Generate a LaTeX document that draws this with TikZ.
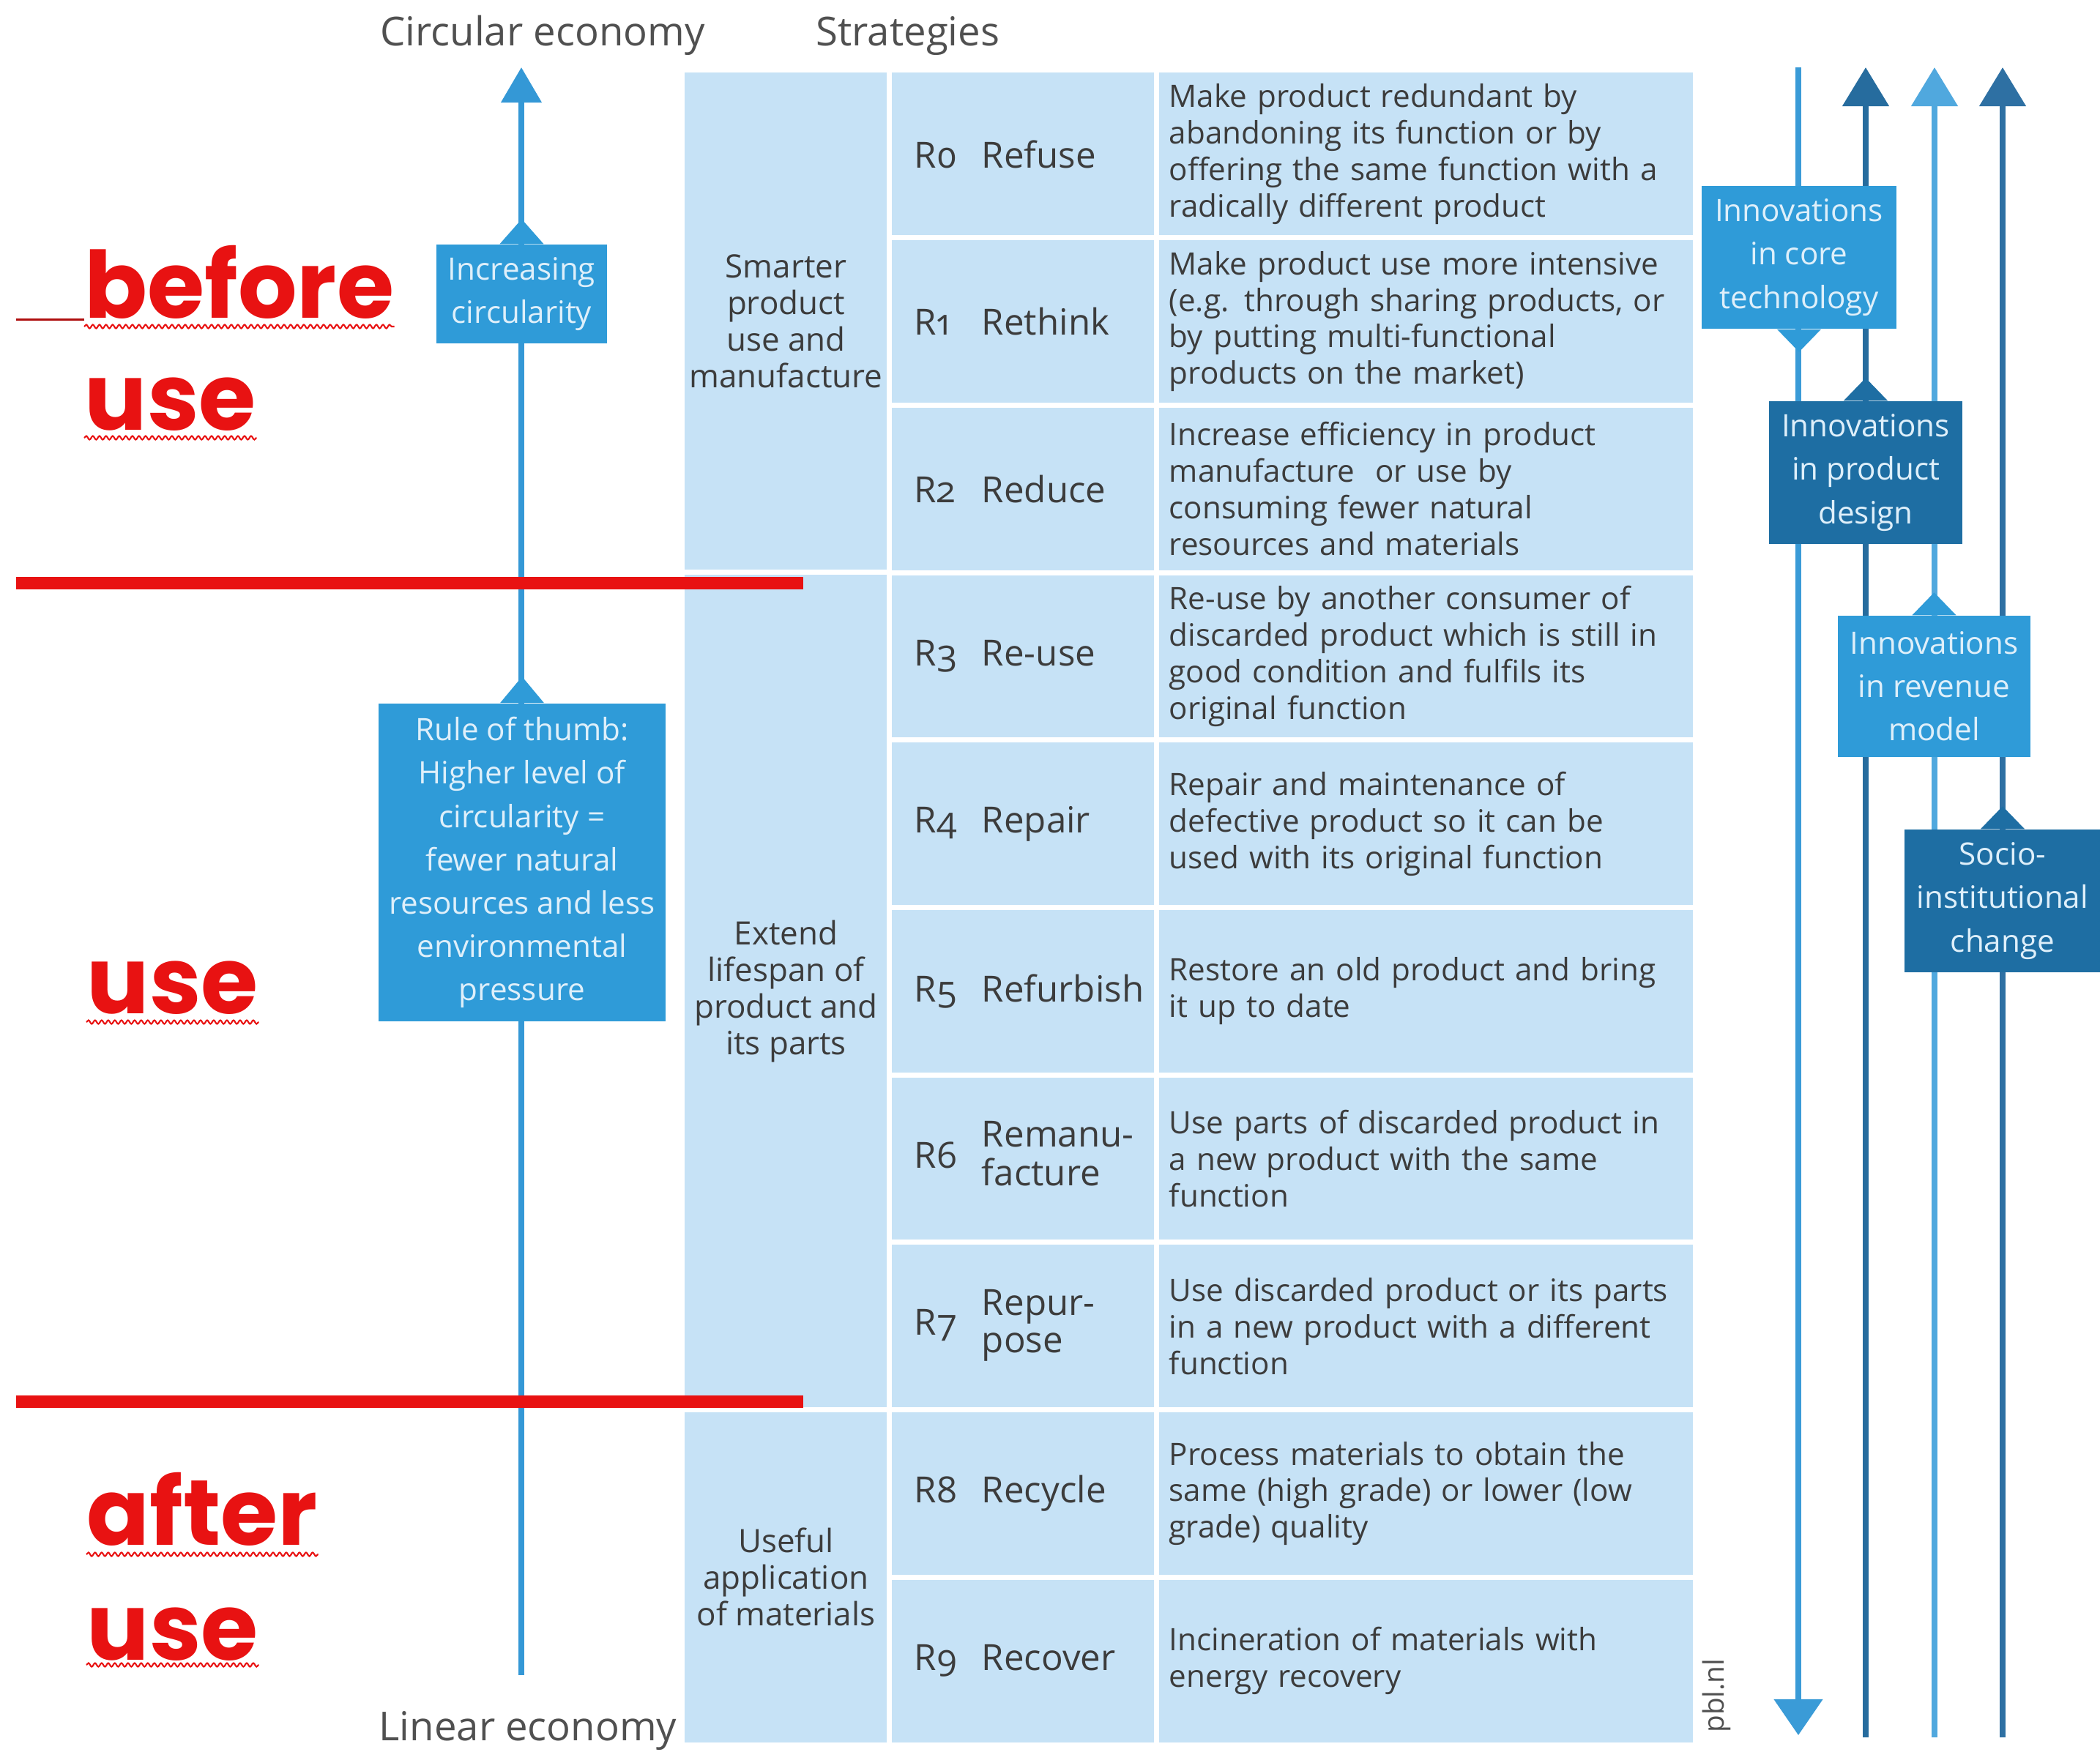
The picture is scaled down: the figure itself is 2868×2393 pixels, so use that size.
\documentclass[tikz,border=0pt]{standalone}
\usepackage{fontspec}
\setmainfont{Open Sans}
\newfontfamily\redfont{Poppins}
\newfontfamily\rfont{Open Sans}[Numbers=OldStyle]
\usetikzlibrary{arrows.meta,decorations.pathmorphing}

\definecolor{cellblue}{RGB}{198,226,246}
\definecolor{textgray}{RGB}{60,60,60}
\definecolor{labelgray}{RGB}{80,80,80}
\definecolor{axisblue}{RGB}{52,152,214}
\definecolor{midblue}{RGB}{47,155,216}
\definecolor{darkblue}{RGB}{30,110,163}
\definecolor{paletext}{RGB}{222,239,250}
\definecolor{lineone}{RGB}{58,155,215}
\definecolor{linetwo}{RGB}{38,108,158}
\definecolor{linethree}{RGB}{80,168,222}
\definecolor{linefour}{RGB}{46,112,163}
\definecolor{sepred}{RGB}{232,18,18}

\newcommand{\rnum}[1]{\makebox[0.92cm][l]{\rfont #1}}

\begin{document}
\begin{tikzpicture}[x=0.01cm, y=-0.01cm,
  cell/.style={fill=cellblue, draw=white, line width=0.07cm, inner sep=0pt, text=textgray},
  grp/.style={cell, minimum width=2.83cm, align=center, font=\fontsize{12.5}{14.2}\selectfont},
  rcell/.style={cell, minimum width=3.65cm, minimum height=2.287cm, text width=2.97cm, inner xsep=0.34cm, align=left, font=\fontsize{14}{14.5}\selectfont},
  dcell/.style={cell, minimum height=2.287cm, text width=7.01cm, inner xsep=0.17cm, align=left, font=\fontsize{12}{14.2}\selectfont},
  toplabel/.style={text=labelgray, inner sep=0pt, font=\fontsize{15.5}{18}\selectfont},
  bluebox/.style={fill=midblue, text=paletext, inner sep=0pt, align=center, font=\fontsize{12}{16.8}\selectfont},
  darkbox/.style={bluebox, fill=darkblue},
  axis/.style={draw=axisblue, line width=0.075cm, -{Triangle[width=0.54cm, length=0.48cm]}},
  downarr/.style={draw=#1, line width=0.08cm, -{Triangle[width=0.65cm, length=0.49cm]}},
  uparr/.style={draw=#1, line width=0.08cm, -{Triangle[width=0.62cm, length=0.53cm]}},
  sepline/.style={draw=sepred, line width=0.17cm},
  redword/.style={text=sepred, inner sep=0pt, anchor=base west, font=\redfont\bfseries\fontsize{36}{36}\selectfont},
  wavy/.style={draw=sepred, line width=0.6pt, decorate, decoration={snake, amplitude=0.025cm, segment length=0.09cm}}]

\useasboundingbox (0,0) rectangle (2868,2393);

% headings
\node[toplabel, anchor=base] (circular) at (741,62) {Circular economy};
\node[toplabel, anchor=base] (strategies) at (1240,62) {Strategies};
\node[toplabel, anchor=base] (linear) at (721,2377) {Linear economy};

% strategy groups
\node[grp, minimum height=6.861cm] (smarter) at (1073.5,439) {Smarter\\product\\use and\\manufacture};
\node[grp, minimum height=11.435cm] (extend) at (1073.5,1353.9) {Extend\\lifespan of\\product and\\its parts};
\node[grp, minimum height=4.574cm] (useful) at (1073.5,2154.3) {Useful\\application\\of materials};

% R strategies
\node[rcell] (r0) at (1397.5,210.4) {\rnum{R0}Refuse};
\node[rcell] (r1) at (1397.5,439.0) {\rnum{R1}Rethink};
\node[rcell] (r2) at (1397.5,667.8) {\rnum{R2}Reduce};
\node[rcell] (r3) at (1397.5,896.5) {\rnum{R3}Re-use};
\node[rcell] (r4) at (1397.5,1125.2) {\rnum{R4}Repair};
\node[rcell] (r5) at (1397.5,1353.9) {\rnum{R5}Refurbish};
\node[rcell] (r6) at (1397.5,1582.6) {\rnum{R6}\begin{tabular}[c]{@{}l@{}}Remanu-\\facture\end{tabular}};
\node[rcell] (r7) at (1397.5,1811.3) {\rnum{R7}\begin{tabular}[c]{@{}l@{}}Repur-\\pose\end{tabular}};
\node[rcell] (r8) at (1397.5,2040.0) {\rnum{R8}Recycle};
\node[rcell] (r9) at (1397.5,2268.7) {\rnum{R9}Recover};

% descriptions
\node[dcell] (d0) at (1947.5,210.4) {Make product redundant by\\abandoning its function or by\\offering the same function with a\\radically different product};
\node[dcell] (d1) at (1947.5,439.0) {Make product use more intensive\\(e.g. through sharing products, or\\by putting multi-functional\\products on the market)};
\node[dcell] (d2) at (1947.5,667.8) {Increase efficiency in product\\manufacture\ \ or use by\\consuming fewer natural\\resources and materials};
\node[dcell] (d3) at (1947.5,896.5) {Re-use by another consumer of\\discarded product which is still in\\good condition and fulfils its\\original function};
\node[dcell] (d4) at (1947.5,1125.2) {Repair and maintenance of\\defective product so it can be\\used with its original function};
\node[dcell] (d5) at (1947.5,1353.9) {Restore an old product and bring\\it up to date};
\node[dcell] (d6) at (1947.5,1582.6) {Use parts of discarded product in\\a new product with the same\\function};
\node[dcell] (d7) at (1947.5,1811.3) {Use discarded product or its parts\\in a new product with a different\\function};
\node[dcell] (d8) at (1947.5,2040.0) {Process materials to obtain the\\same (high grade) or lower (low\\grade) quality};
\node[dcell] (d9) at (1947.5,2268.7) {Incineration of materials with\\energy recovery};

\node[rotate=90, text=labelgray, inner sep=0pt, font=\fontsize{11}{12}\selectfont] (pbl) at (2344,2316) {pbl.nl};

% circularity axis
\coordinate (lintop) at (712,92);
\coordinate (linbot) at (712,2288);
\draw[axis] (linbot) -- (lintop);

\node[bluebox, minimum width=2.33cm, minimum height=1.35cm] (increasing) at (712.5,401.5) {Increasing\\circularity};
\fill[midblue] ([xshift=-0.3cm]increasing.north) -- ++(30,-34) -- ++(30,34) -- cycle;
\node[bluebox, minimum width=3.92cm, minimum height=4.34cm] (thumb) at (713,1178) {Rule of thumb:\\Higher level of\\circularity =\\fewer natural\\resources and less\\environmental\\pressure};
\fill[midblue] ([xshift=-0.3cm]thumb.north) -- ++(30,-36) -- ++(30,36) -- cycle;

% innovation arrows
\coordinate (a1top) at (2456,92);
\coordinate (a1bot) at (2456,2370);
\coordinate (a2top) at (2548,92);
\coordinate (a2bot) at (2548,2373);
\coordinate (a3top) at (2642,92);
\coordinate (a3bot) at (2642,2373);
\coordinate (a4top) at (2735,92);
\coordinate (a4bot) at (2735,2373);
\draw[downarr=lineone] (a1top) -- (a1bot);
\draw[uparr=linetwo] (a2bot) -- (a2top);
\draw[uparr=linethree] (a3bot) -- (a3top);
\draw[uparr=linefour] (a4bot) -- (a4top);

\node[bluebox, minimum width=2.66cm, minimum height=1.95cm] (coretech) at (2457,351.5) {Innovations\\in core\\technology};
\fill[midblue] ([xshift=-0.3cm]coretech.south) -- ++(30,31) -- ++(30,-31) -- cycle;
\node[darkbox, minimum width=2.64cm, minimum height=1.95cm] (design) at (2548,645.5) {Innovations\\in product\\design};
\fill[darkblue] ([xshift=-0.3cm]design.north) -- ++(30,-31) -- ++(30,31) -- cycle;
\node[bluebox, minimum width=2.63cm, minimum height=1.93cm] (revenue) at (2641.5,937.5) {Innovations\\in revenue\\model};
\fill[midblue] ([xshift=-0.3cm]revenue.north) -- ++(30,-31) -- ++(30,31) -- cycle;
\node[darkbox, minimum width=2.68cm, minimum height=1.95cm] (socio) at (2735,1230.5) {Socio-\\institutional\\change};
\fill[darkblue] ([xshift=-0.3cm]socio.north) -- ++(30,-31) -- ++(30,31) -- cycle;

% phases
\draw[sepline] (22,796) -- (1097,796);
\draw[sepline] (22,1914) -- (1097,1914);

\node[redword] (before) at (115,434) {before};
\node[redword] (useone) at (115,587) {use};
\node[redword] (usetwo) at (118,1384) {use};
\node[redword] (after) at (118,2110) {after};
\node[redword] (usethree) at (118,2267) {use};
\draw[draw=sepred!75!black, line width=0.03cm] ([yshift=-0.02cm]before.base west) -- ++(-93,0);
\draw[wavy] ([yshift=-0.12cm]before.base west) -- ([yshift=-0.12cm]before.base east);
\draw[wavy] ([yshift=-0.11cm]useone.base west) -- ([yshift=-0.11cm]useone.base east);
\draw[wavy] ([yshift=-0.12cm]usetwo.base west) -- ([yshift=-0.12cm]usetwo.base east);
\draw[wavy] ([yshift=-0.13cm]after.base west) -- ([yshift=-0.13cm]after.base east);
\draw[wavy] ([yshift=-0.07cm]usethree.base west) -- ([yshift=-0.07cm]usethree.base east);

\end{tikzpicture}
\end{document}
